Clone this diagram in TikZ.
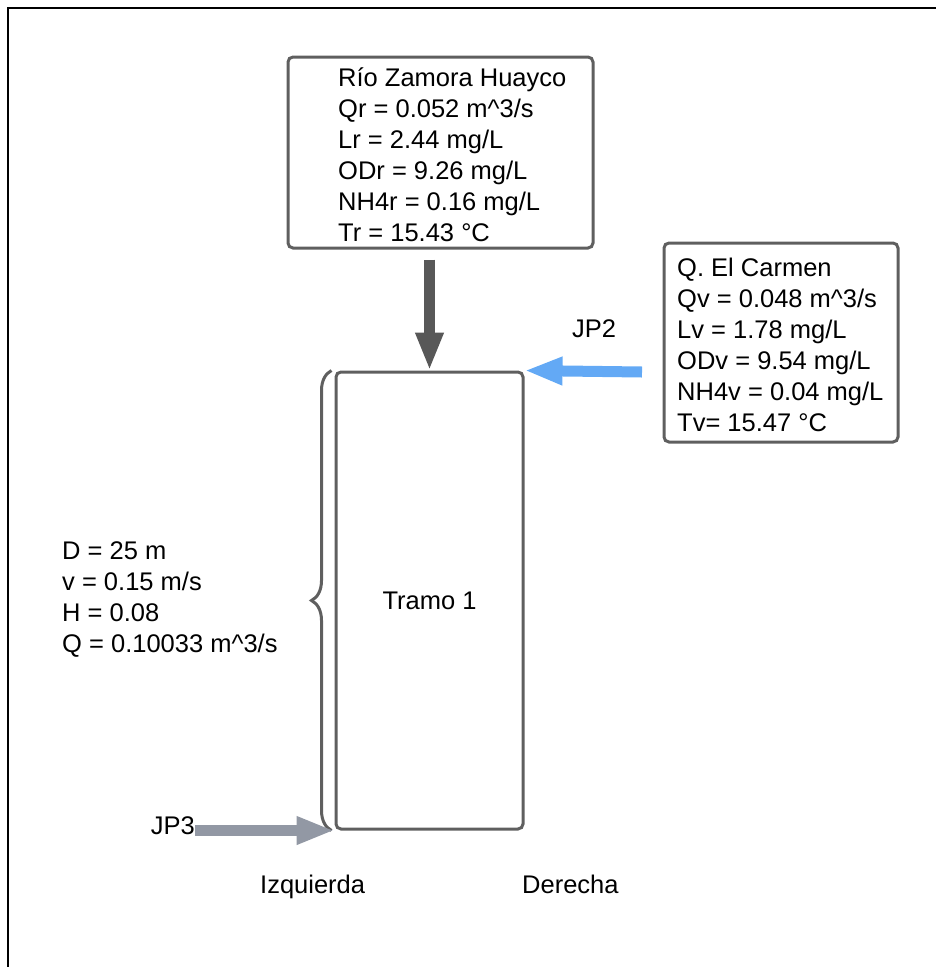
\documentclass[tikz,border=0pt]{standalone}
\usepackage{fontspec}
\setmainfont{Liberation Sans}
\usetikzlibrary{arrows.meta,decorations.pathreplacing}
\definecolor{cframe}{RGB}{95,95,95}
\definecolor{cdown}{RGB}{88,88,88}
\definecolor{cblue}{RGB}{99,169,245}
\definecolor{cgrey}{RGB}{146,152,164}
\tikzset{tramosec/.style={x=1pt,y=-1pt,font=\fontsize{25.5}{31}\selectfont},
  databox/.style={draw=cframe,line width=3pt,rounded corners=5pt,inner sep=0pt},
  datatext/.style={anchor=base west,align=left,inner sep=0pt},
  flow/.style={line width=11pt,-{Triangle[length=38pt,width=26pt]}}}

\begin{document}
\begin{tikzpicture}[tramosec]
    \useasboundingbox (0,0) rectangle (936,967);
    \draw[line width=2.5pt] (8,967) -- (8,8) -- (936,8);
    % cajas de datos (base = ultima linea)
    \node[databox,minimum width=305pt,minimum height=191pt] (rio) at (440.5,152.5) {};
    \node[datatext] (riotext) at (338,241) {Río Zamora Huayco\\Qr = 0.052 m\textasciicircum3/s\\Lr = 2.44 mg/L\\ODr = 9.26 mg/L\\NH4r = 0.16 mg/L\\Tr = 15.43 °C};
    \node[databox,minimum width=234pt,minimum height=199pt] (carmen) at (781,342.5) {};
    \node[datatext] (carmentext) at (677,431) {Q. El Carmen\\Qv = 0.048 m\textasciicircum3/s\\Lv = 1.78 mg/L\\ODv = 9.54 mg/L\\NH4v = 0.04 mg/L\\Tv= 15.47 °C};
    \node[databox,minimum width=187pt,minimum height=457pt] (tramo) at (429.5,600.5) {Tramo 1};
    \node[datatext] (param) at (62,652) {D = 25 m\\v = 0.15 m/s\\H = 0.08\\Q = 0.10033 m\textasciicircum3/s};
    \node[datatext] (izq) at (260,893) {Izquierda};
    \node[datatext] (der) at (522,893) {Derecha};
    \node[datatext] (jp2) at (572,337) {JP2};
    \node[anchor=base east,inner sep=0pt] (jp3) at (195,834) {JP3};
    \coordinate (jp2in) at (642,372);
    % aportes
    \draw[decorate,decoration={brace,amplitude=20pt},cframe,line width=3pt] ([xshift=-3pt]tramo.south west) -- ([xshift=-3pt]tramo.north west);
    \draw[flow,cdown,shorten <=10pt] (rio.south -| tramo.north) -- (tramo.north);
    \draw[flow,cblue] (jp2in) -- (tramo.north east);
    \draw[flow,cgrey] (jp3.east |- tramo.south west) -- (tramo.south west);
\end{tikzpicture}
\end{document}
